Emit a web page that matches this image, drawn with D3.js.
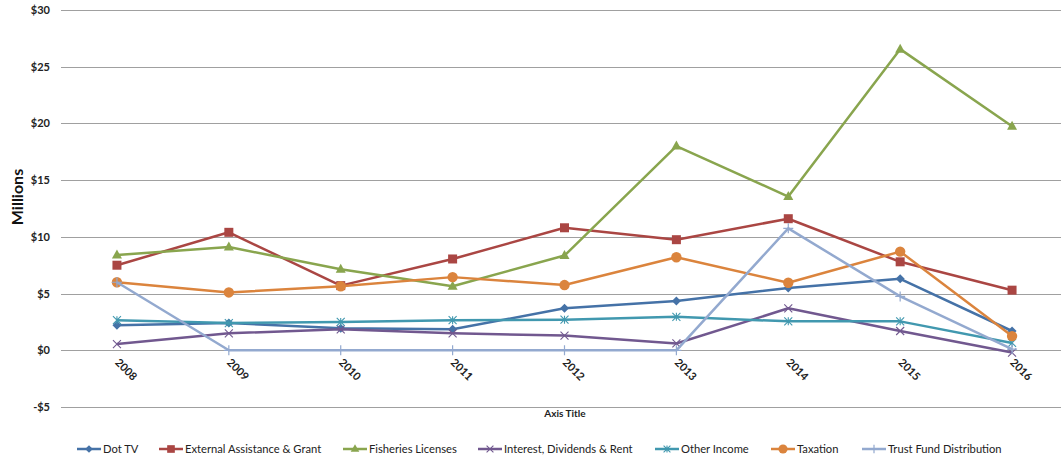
<!DOCTYPE html>
<html>
<head>
<meta charset="utf-8">
<script src="https://cdn.jsdelivr.net/npm/d3@7"></script>
<style>
  html, body { margin: 0; padding: 0; background: #fff; }
  svg { display: block; font-family: Lato, "Open Sans", sans-serif; }
</style>
</head>
<body>
<svg id="chart" width="1061" height="461"></svg>
<script>
// Revenue by source, in millions of dollars
const years = ["2008", "2009", "2010", "2011", "2012", "2013", "2014", "2015", "2016"];
const dotTV = [2.2, 2.4, 1.95, 1.85, 3.7, 4.35, 5.5, 6.3, 1.7];
const externalAssistance = [7.5, 10.4, 5.7, 8.05, 10.8, 9.75, 11.6, 7.8, 5.3];
const fisheriesLicenses = [8.4, 9.1, 7.15, 5.65, 8.35, 18.0, 13.55, 26.55, 19.75];
const interestDividends = [0.55, 1.5, 1.85, 1.5, 1.3, 0.6, 3.7, 1.7, -0.2];
const otherIncome = [2.65, 2.4, 2.5, 2.65, 2.7, 2.95, 2.55, 2.55, 0.65];
const taxation = [6.0, 5.1, 5.65, 6.45, 5.75, 8.2, 5.95, 8.7, 1.25];
const trustFund = [6.0, 0, 0, 0, 0, 0, 10.75, 4.75, 0.1];
const yTicks = [-5, 0, 5, 10, 15, 20, 25, 30];

const series = [
  { name: "Dot TV", values: dotTV, color: "#4572A7", marker: "diamond" },
  { name: "External Assistance & Grant", values: externalAssistance, color: "#AA4643", marker: "square" },
  { name: "Fisheries Licenses", values: fisheriesLicenses, color: "#89A54E", marker: "triangle" },
  { name: "Interest, Dividends & Rent", values: interestDividends, color: "#71588F", marker: "x" },
  { name: "Other Income", values: otherIncome, color: "#4198AF", marker: "star" },
  { name: "Taxation", values: taxation, color: "#DB843D", marker: "circle" },
  { name: "Trust Fund Distribution", values: trustFund, color: "#93A9CF", marker: "plus" }
];

const svg = d3.select("#chart");
const plot = { left: 61, right: 1068, top: 10, bottom: 407 };

const x = d3.scalePoint().domain(years).range([plot.left, plot.right]).padding(0.5);
const y = d3.scaleLinear().domain([-5, 30]).range([plot.bottom, plot.top]);

// Horizontal gridlines
svg.append("g")
  .selectAll("line")
  .data(yTicks)
  .join("line")
  .attr("x1", plot.left).attr("x2", 1061)
  .attr("y1", d => Math.round(y(d)) + 0.5).attr("y2", d => Math.round(y(d)) + 0.5)
  .attr("stroke", "#a0a0a0").attr("stroke-width", 1.2);

// Y axis labels
const yAxis = d3.axisLeft(y).tickValues(yTicks)
  .tickFormat(d => (d < 0 ? "-$" + Math.abs(d) : "$" + d))
  .tickSize(0).tickPadding(11);
const yg = svg.append("g").attr("transform", `translate(${plot.left},0)`).call(yAxis);
yg.select(".domain").remove();
yg.selectAll("text").attr("font-size", 11).attr("font-weight", "bold").attr("fill", "#222")
  .attr("font-family", "Lato, sans-serif");

// X axis labels, rotated
const xAxis = d3.axisBottom(x).tickSize(0).tickPadding(0);
const xg = svg.append("g").attr("transform", `translate(0,${y(0)})`).call(xAxis);
xg.select(".domain").remove();
xg.selectAll("text")
  .attr("font-size", 11).attr("font-weight", "bold").attr("fill", "#222")
  .attr("font-family", "Lato, sans-serif")
  .attr("text-anchor", "start")
  .attr("dy", null)
  .attr("transform", "translate(-3,13) rotate(45)")
  .attr("y", 0).attr("x", 0);

// Axis titles
svg.append("text")
  .attr("x", (plot.left + 1061) / 2 + 4).attr("y", 417)
  .attr("text-anchor", "middle")
  .attr("font-size", 10).attr("font-weight", "bold").attr("fill", "#222")
  .text("Axis Title");

svg.append("text")
  .attr("transform", "translate(23,197) rotate(-90)")
  .attr("text-anchor", "middle")
  .attr("font-size", 16).attr("font-weight", "bold").attr("fill", "#111")
  .text("Millions");

// Marker shapes
function drawMarker(g, type, color, s) {
  switch (type) {
    case "diamond":
      g.append("path").attr("d", `M0,${-s}L${s},0L0,${s}L${-s},0Z`).attr("fill", color);
      break;
    case "square":
      g.append("rect").attr("x", -s).attr("y", -s).attr("width", 2 * s).attr("height", 2 * s).attr("fill", color);
      break;
    case "triangle":
      g.append("path").attr("d", `M0,${-s - 1}L${s + 0.5},${s - 1}L${-s - 0.5},${s - 1}Z`).attr("fill", color);
      break;
    case "x":
      g.append("path").attr("d", `M${-s},${-s}L${s},${s}M${-s},${s}L${s},${-s}`)
        .attr("stroke", color).attr("stroke-width", 1.1).attr("fill", "none");
      break;
    case "star":
      g.append("path").attr("d", `M${-s},${-s}L${s},${s}M${-s},${s}L${s},${-s}M0,${-s}L0,${s}`)
        .attr("stroke", color).attr("stroke-width", 1.1).attr("fill", "none");
      break;
    case "circle":
      g.append("circle").attr("r", s + 1).attr("fill", color);
      break;
    case "plus":
      g.append("path").attr("d", `M${-s},0L${s},0M0,${-s}L0,${s}`)
        .attr("stroke", color).attr("stroke-width", 1.2).attr("fill", "none");
      break;
  }
}

const markerSize = { diamond: 4.5, square: 4.5, triangle: 4.5, x: 4, star: 4, circle: 4.2, plus: 5 };

const line = d3.line().x((d, i) => x(years[i])).y(d => y(d));

series.forEach(s => {
  const g = svg.append("g");
  g.append("path")
    .datum(s.values)
    .attr("d", line)
    .attr("fill", "none")
    .attr("stroke", s.color)
    .attr("stroke-width", 2.5)
    .attr("stroke-linejoin", "round");
  g.selectAll("g.pt")
    .data(s.values)
    .join("g")
    .attr("class", "pt")
    .attr("transform", (d, i) => `translate(${x(years[i])},${y(d)})`)
    .each(function () { drawMarker(d3.select(this), s.marker, s.color, markerSize[s.marker]); });
});

// Legend
const legendX = [77, 159, 343, 478, 655, 771, 862];
const legend = svg.append("g").attr("transform", "translate(0,449)");
series.forEach((s, i) => {
  const g = legend.append("g").attr("transform", `translate(${legendX[i]},0)`);
  g.append("line").attr("x1", 0).attr("x2", 24).attr("y1", 0).attr("y2", 0)
    .attr("stroke", s.color).attr("stroke-width", 2.5);
  const m = g.append("g").attr("transform", "translate(12,0)");
  drawMarker(m, s.marker, s.color, markerSize[s.marker] * 0.85);
  g.append("text").attr("x", 26).attr("y", 4)
    .attr("font-size", 11.2).attr("fill", "#222")
    .text(s.name);
});
</script>
</body>
</html>
